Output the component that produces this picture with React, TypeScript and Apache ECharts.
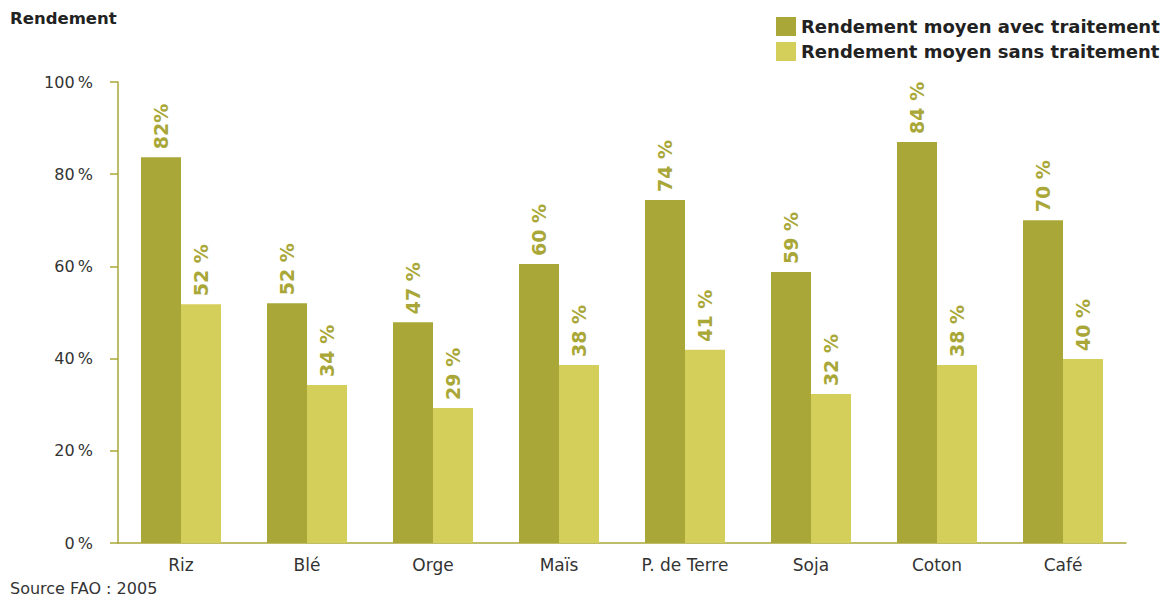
import React, { useEffect, useRef } from "react";
import * as echarts from "echarts";

const categories = ["Riz", "Blé", "Orge", "Maïs", "P. de Terre", "Soja", "Coton", "Café"];
const seriesNames = ["Rendement moyen avec traitement", "Rendement moyen sans traitement"];
// bar heights as drawn in the reference (percent)
const withTreatment = [83.7, 52, 47.9, 60.5, 74.4, 58.8, 87, 70];
const withoutTreatment = [51.8, 34.3, 29.3, 38.6, 41.9, 32.3, 38.6, 39.9];
// labels printed above the bars
const withLabels = ["82%", "52 %", "47 %", "60 %", "74 %", "59 %", "84 %", "70 %"];
const withoutLabels = ["52 %", "34 %", "29 %", "38 %", "41 %", "32 %", "38 %", "40 %"];
const yTicks = [0, 20, 40, 60, 80, 100];

const DARK = "#a9a738";
const LIGHT = "#d4ce5a";
const AXIS = "#a9a738";
const FONT = "'DejaVu Sans', 'Noto Sans', sans-serif";

export default function App() {
  const ref = useRef<HTMLDivElement>(null);
  useEffect(() => {
    if (!ref.current) return;
    const chart = echarts.init(ref.current, undefined, { renderer: "svg" });
    const labelCfg = (labels: string[]) => ({
      show: true,
      position: "top",
      rotate: 90,
      align: "left",
      verticalAlign: "middle",
      distance: 8,
      color: DARK,
      fontFamily: FONT,
      fontWeight: "bold",
      fontSize: 19,
      formatter: (p: any) => labels[p.dataIndex],
    });
    chart.setOption({
      animation: false,
      textStyle: { fontFamily: FONT },
      grid: { left: 118, right: 44, top: 82, bottom: 58, containLabel: false },
      legend: {
        top: 12,
        left: 771,
        orient: "vertical",
        itemWidth: 20,
        itemHeight: 19,
        itemGap: 6,
        icon: "rect",
        textStyle: { fontFamily: FONT, fontSize: 18, fontWeight: "bold", color: "#222" },
        data: seriesNames,
      },
      graphic: [
        {
          type: "text",
          left: 10,
          top: 10,
          style: { text: "Rendement", font: `bold 16.5px ${FONT}`, fill: "#222" },
        },
        {
          type: "text",
          left: 10,
          top: 580,
          style: { text: "Source FAO : 2005", font: `16px ${FONT}`, fill: "#333" },
        },
      ],
      xAxis: {
        type: "category",
        data: categories,
        axisLine: { show: true, lineStyle: { color: AXIS, width: 1.5 } },
        axisTick: { show: false },
        axisLabel: { color: "#333", fontSize: 17, fontFamily: FONT, margin: 13 },
      },
      yAxis: {
        type: "value",
        min: yTicks[0],
        max: yTicks[yTicks.length - 1],
        interval: 20,
        splitLine: { show: false },
        axisLine: { show: true, lineStyle: { color: AXIS, width: 1.5 } },
        axisTick: { show: true, length: 8, lineStyle: { color: AXIS, width: 1.5 } },
        axisLabel: {
          color: "#333",
          fontSize: 16,
          fontFamily: FONT,
          margin: 25,
          formatter: (v: number) => `${v}\u2009%`,
        },
      },
      series: [
        {
          name: seriesNames[0],
          type: "bar",
          data: withTreatment,
          barWidth: 40,
          barGap: "0%",
          itemStyle: { color: DARK },
          label: labelCfg(withLabels),
        },
        {
          name: seriesNames[1],
          type: "bar",
          data: withoutTreatment,
          barWidth: 40,
          itemStyle: { color: LIGHT },
          label: labelCfg(withoutLabels),
        },
      ],
    });
    return () => chart.dispose();
  }, []);
  return <div ref={ref} style={{ width: 1170, height: 601, position: "absolute", left: 0, top: 0, background: "#fff" }} />;
}
